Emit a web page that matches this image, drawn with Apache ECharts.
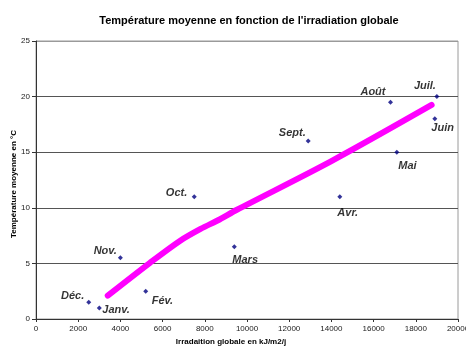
<!DOCTYPE html>
<html>
<head>
<meta charset="utf-8">
<script src="https://cdn.jsdelivr.net/npm/echarts@6/dist/echarts.min.js"></script>
<style>
  html, body { margin: 0; padding: 0; background: #fff; }
  #chart { width: 466px; height: 347px; }
</style>
</head>
<body>
<div id="chart"></div>
<script>
// Monthly means: global irradiation (kJ/m²/j) vs mean temperature (°C)
const months      = ['Janv.', 'Fév.', 'Mars', 'Avr.', 'Mai', 'Juin', 'Juil.', 'Août', 'Sept.', 'Oct.', 'Nov.', 'Déc.'];
const irradiation = [3000, 5200, 9400, 14400, 17100, 18900, 19000, 16800, 12900, 7500, 4000, 2500];
const temperature = [1.0, 2.5, 6.5, 11.0, 15.0, 18.0, 20.0, 19.5, 16.0, 11.0, 5.5, 1.5];

// Hand-drawn trend curve
const trendX = [3400, 5400, 6800, 7800, 8700, 9500, 14000, 18750];
const trendY = [2.1, 5.05, 7.0, 8.1, 8.95, 9.8, 14.2, 19.25];

// Axis ticks
const xTicks = [0, 2000, 4000, 6000, 8000, 10000, 12000, 14000, 16000, 18000, 20000];
const yTicks = [0, 5, 10, 15, 20, 25];

// Where each month's name sits around its marker: side and pixel shift
const labelPlacement = {
  'Janv.': ['right', 0.5, 2.5],
  'Fév.':  ['right', 3.5, 10],
  'Mars':  ['right', -4.5, 13.5],
  'Avr.':  ['right', -5, 16.5],
  'Mai':   ['right', -1, 13.5],
  'Juin':  ['right', -6, 9.5],
  'Juil.': ['left', 1.5, -10.5],
  'Août':  ['left', -2.5, -10.5],
  'Sept.': ['left', 0, -8.5],
  'Oct.':  ['left', -4.5, -3.5],
  'Nov.':  ['left', -1, -6.5],
  'Déc.':  ['left', -2, -6]
};

const font = 'Arial, "Liberation Sans", sans-serif';

const points = months.map((m, i) => {
  const p = labelPlacement[m];
  return {
    name: m,
    value: [irradiation[i], temperature[i]],
    label: { position: p[0], offset: [p[1], p[2]] }
  };
});

const chart = echarts.init(document.getElementById('chart'), null, { renderer: 'canvas' });

chart.setOption({
  animation: false,
  backgroundColor: '#ffffff',
  title: {
    text: "Température moyenne en fonction de l'irradiation globale",
    left: 244, top: 10, textAlign: 'center',
    textStyle: { fontFamily: font, fontSize: 11, fontWeight: 'bold', color: '#000' }
  },
  grid: {
    left: 36, right: 8, top: 41, bottom: 28,
    outerBoundsMode: 'none',
    containLabel: false,
    show: true, borderColor: '#9a9a9a', borderWidth: 1
  },
  xAxis: {
    type: 'value',
    min: xTicks[0], max: xTicks[xTicks.length - 1], interval: xTicks[1] - xTicks[0],
    name: 'Irradaition globale en kJ/m2/j',
    nameLocation: 'middle', nameGap: 19, nameMoveOverlap: false,
    nameTextStyle: { fontFamily: font, fontSize: 8, fontWeight: 'bold', color: '#000', padding: [0, 32, 0, 0] },
    axisLine: { lineStyle: { color: '#333', width: 1 } },
    axisTick: { show: true, length: 3, lineStyle: { color: '#333' } },
    axisLabel: {
      fontFamily: font, fontSize: 8, color: '#222', margin: 6,
      showMaxLabel: true, showMinLabel: true,
      formatter: v => String(v)
    },
    splitLine: { show: false }
  },
  yAxis: {
    type: 'value',
    min: yTicks[0], max: yTicks[yTicks.length - 1], interval: yTicks[1] - yTicks[0],
    name: 'Température moyenne en °C',
    nameLocation: 'middle', nameGap: 18, nameRotate: 90, nameMoveOverlap: false,
    nameTextStyle: { fontFamily: font, fontSize: 8, fontWeight: 'bold', color: '#000', padding: [0, 8, 0, 0] },
    axisLine: { show: true, lineStyle: { color: '#333', width: 1 } },
    axisTick: { show: true, length: 4, lineStyle: { color: '#333' } },
    axisLabel: { fontFamily: font, fontSize: 8, color: '#222', margin: 6, formatter: v => String(v) },
    splitLine: { show: true, lineStyle: { color: ['#333', '#555', '#555', '#555', '#555', '#9a9a9a'], width: 1 } }
  },
  series: [
    {
      name: 'tendance',
      type: 'line',
      data: trendX.map((x, i) => [x, trendY[i]]),
      smooth: 0.3,
      showSymbol: false,
      lineStyle: { color: '#ff00ff', width: 6, cap: 'round', join: 'round' },
      z: 2
    },
    {
      name: 'mois',
      type: 'scatter',
      data: points,
      symbol: 'diamond',
      symbolSize: 5,
      itemStyle: { color: '#000080' },
      label: {
        show: true,
        distance: 0,
        formatter: '{b}',
        fontFamily: font,
        fontSize: 11,
        fontWeight: 'bold',
        fontStyle: 'italic',
        color: '#000'
      },
      z: 3
    }
  ]
});
</script>
</body>
</html>
